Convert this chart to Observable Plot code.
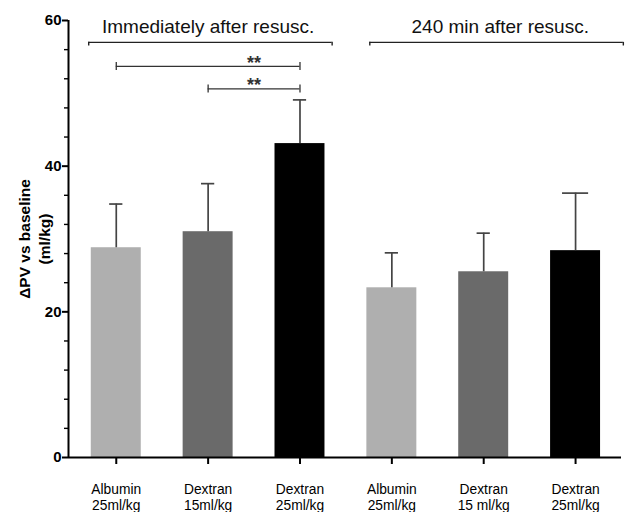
<!DOCTYPE html>
<html><head><meta charset="utf-8">
<script src="https://cdn.jsdelivr.net/npm/d3@7"></script>
<script src="https://cdn.jsdelivr.net/npm/@observablehq/plot@0.6"></script>
<style>body{margin:0;background:#fff} #chart svg{display:block}</style>
</head><body><div id="chart"></div>
<script>
// ---- data ----
const positions = [1, 2, 3, 4, 5, 6];
const fluids = ["Albumin 25", "Dextran 15", "Dextran 25", "Albumin 25", "Dextran 15", "Dextran 25"];
const labelLine1 = ["Albumin", "Dextran", "Dextran", "Albumin", "Dextran", "Dextran"];
const labelLine2 = ["25ml/kg", "15ml/kg", "25ml/kg", "25ml/kg", "15 ml/kg", "25ml/kg"];
const means = [28.8, 31.0, 43.1, 23.3, 25.5, 28.4];
const upper = [34.8, 37.6, 49.1, 28.1, 30.8, 36.3];
const yMajor = [0, 20, 40, 60];
const yMinor = [4, 8, 12, 16, 24, 28, 32, 36, 44, 48, 52, 56];

// group brackets (annotation)
const groupNames = ["Immediately after resusc.", "240 min after resusc."];
const groupStart = [0.70, 3.76];
const groupEnd = [3.35, 6.52];
const groupLabelX = [2.0, 5.18];
const groupLevel = 57.0;

// significance brackets (annotation)
const sigStart = [1, 2];
const sigEnd = [3, 3];
const sigLevel = [53.7, 50.6];
const sigText = ["**", "**"];
const sigTextX = [2.5, 2.5];

const data = positions.map((p, i) => ({pos: p, fluid: fluids[i], mean: means[i], upper: upper[i]}));
const groups = groupNames.map((n, i) => ({name: n, x1: groupStart[i], x2: groupEnd[i], lx: groupLabelX[i]}));
const sigs = sigStart.map((s, i) => ({x1: s, x2: sigEnd[i], y: sigLevel[i], t: sigText[i], tx: sigTextX[i]}));

const halfBar = 0.272;
const font = "Liberation Sans, Arial, Helvetica, sans-serif";

const chart = Plot.plot({
  width: 626, height: 512,
  marginLeft: 68, marginRight: 5, marginTop: 20, marginBottom: 55,
  style: {fontFamily: font, background: "#fff", overflow: "visible", color: "#000"},
  x: {type: "linear", domain: [0.48, 6.5]},
  y: {domain: [0, 60]},
  color: {type: "ordinal", domain: ["Albumin 25", "Dextran 15", "Dextran 25"], range: ["#afafaf", "#6a6a6a", "#000000"]},
  marks: [
    Plot.rectY(data, {x1: d => d.pos - halfBar, x2: d => d.pos + halfBar, y: "mean", fill: "fluid"}),
    // error bars (upper only)
    Plot.ruleX(data, {x: "pos", y1: "mean", y2: "upper", stroke: "#444", strokeWidth: 1.7}),
    Plot.ruleY(data.filter(d => d.pos !== 6), {y: "upper", x1: d => d.pos - 0.072, x2: d => d.pos + 0.072, stroke: "#444", strokeWidth: 1.7}),
    Plot.ruleY(data.filter(d => d.pos === 6), {y: "upper", x1: d => d.pos - 0.142, x2: d => d.pos + 0.142, stroke: "#444", strokeWidth: 1.7}),
    // axes lines
    Plot.ruleX([0.48], {y1: 0, y2: 60, stroke: "#000", strokeWidth: 2}),
    Plot.ruleY([0], {x1: 0.48, x2: 6.5, stroke: "#000", strokeWidth: 2}),
    Plot.axisY(yMajor, {tickSize: 6, tickPadding: 1, fontSize: 15, fontWeight: "bold", strokeWidth: 2, label: null}),
    Plot.axisY(yMinor, {tickSize: 4, tickFormat: () => "", strokeWidth: 1.4, label: null}),
    Plot.axisX(positions, {tickSize: 7, tickPadding: 19, strokeWidth: 2, fontSize: 13.8, lineHeight: 1.12,
      tickFormat: p => labelLine1[p - 1] + "\n" + labelLine2[p - 1], label: null}),
    // y label
    Plot.text(["ΔPV vs baseline\n(ml/kg)"], {frameAnchor: "left", dx: -35, rotate: -90, fontSize: 15.5, fontWeight: "bold", lineHeight: 1.3, textAnchor: "middle", lineAnchor: "middle"}),
    // group brackets
    Plot.ruleY(groups, {y: groupLevel, x1: "x1", x2: "x2", stroke: "#222", strokeWidth: 1.4}),
    Plot.ruleX(groups, {x: "x1", y1: groupLevel, y2: groupLevel - 0.5, stroke: "#222", strokeWidth: 1.4}),
    Plot.ruleX(groups, {x: "x2", y1: groupLevel, y2: groupLevel - 0.5, stroke: "#222", strokeWidth: 1.4}),
    Plot.text(groups, {x: "lx", y: 59.15, text: "name", fontSize: 19, fill: "#111", lineAnchor: "middle"}),
    // significance brackets
    Plot.ruleY(sigs, {y: "y", x1: "x1", x2: "x2", stroke: "#333", strokeWidth: 1.3}),
    Plot.ruleX(sigs, {x: "x1", y1: d => d.y + 0.55, y2: d => d.y - 0.55, stroke: "#333", strokeWidth: 1.3}),
    Plot.ruleX(sigs, {x: "x2", y1: d => d.y + 0.55, y2: d => d.y - 0.55, stroke: "#333", strokeWidth: 1.3}),
    Plot.text(sigs, {x: "tx", y: d => d.y + 0.5, text: "t", fontSize: 18, fontWeight: "bold", fill: "#333", lineAnchor: "middle"})
  ]
});
document.getElementById("chart").append(chart);
</script>
</body></html>
